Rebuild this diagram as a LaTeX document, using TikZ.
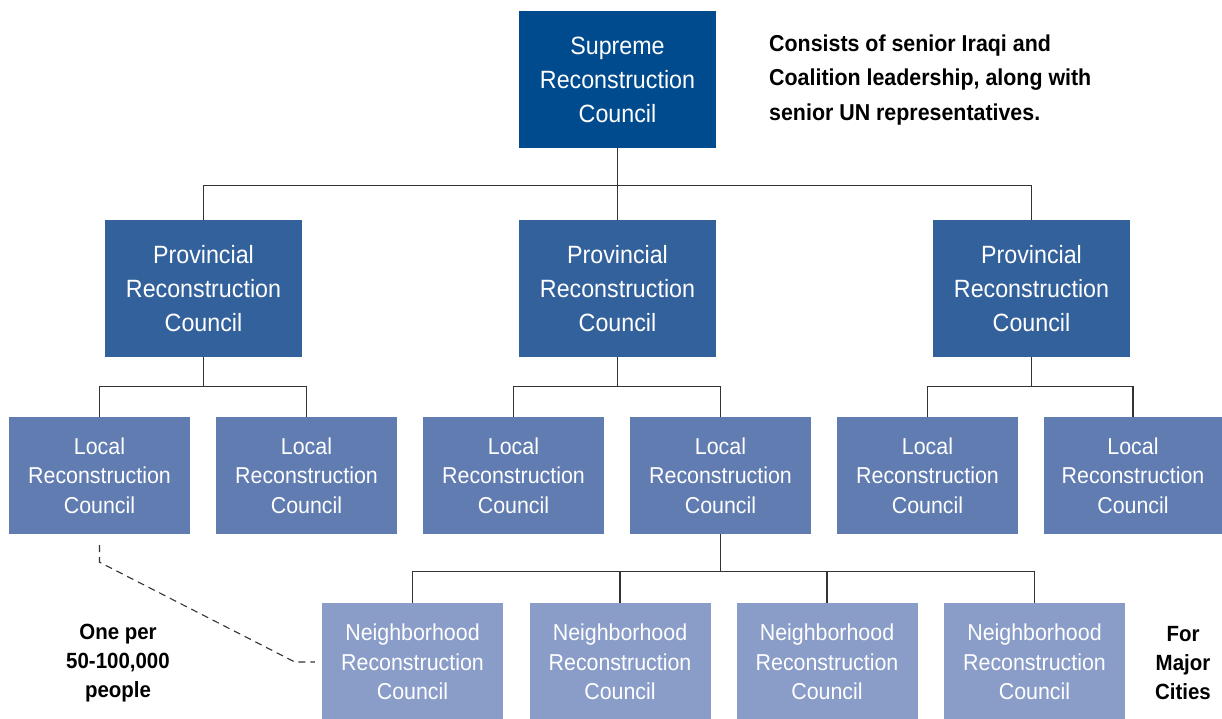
\documentclass[tikz,border=0pt]{standalone}
\usepackage{fontspec}
\setmainfont{Liberation Sans}[FakeStretch=0.93]
\definecolor{supremeblue}{HTML}{004B8D}
\definecolor{provblue}{HTML}{33619C}
\definecolor{localblue}{HTML}{607CB1}
\definecolor{hoodblue}{HTML}{8A9DC8}
\definecolor{wire}{HTML}{333333}
\tikzset{
  council/.style={inner sep=0pt, align=center, text=white},
  upper/.style={council, minimum width=197pt, minimum height=137pt,
    font=\fontsize{25}{34}\selectfont},
  lower/.style={council, minimum width=181pt, minimum height=117pt,
    font=\fontsize{23}{29.5}\selectfont},
  link/.style={draw=wire, line width=1.3pt, line join=miter},
  remark/.style={inner sep=0pt, text=black},
}
\begin{document}
\begin{tikzpicture}[x=1pt,y=-1pt]
\useasboundingbox (0,0) rectangle (1222,719);

% top level
\node[upper, fill=supremeblue] (sup) at (617.5,79.5) {Supreme\\Reconstruction\\Council};
\node[remark, anchor=west, align=left, font=\fontsize{23}{34.5}\selectfont\bfseries]
  (note) at (769,80) {Consists of senior Iraqi and\\Coalition leadership, along with\\senior UN representatives.};

% provincial level
\node[upper, fill=provblue] (p1) at (203.5,288.5) {Provincial\\Reconstruction\\Council};
\node[upper, fill=provblue] (p2) at (617.5,288.5) {Provincial\\Reconstruction\\Council};
\node[upper, fill=provblue] (p3) at (1031.5,288.5) {Provincial\\Reconstruction\\Council};

% local level
\node[lower, fill=localblue] (l1) at (99.5,475.5) {Local\\Reconstruction\\Council};
\node[lower, fill=localblue] (l2) at (306.5,475.5) {Local\\Reconstruction\\Council};
\node[lower, fill=localblue] (l3) at (513.5,475.5) {Local\\Reconstruction\\Council};
\node[lower, fill=localblue] (l4) at (720.5,475.5) {Local\\Reconstruction\\Council};
\node[lower, fill=localblue] (l5) at (927.5,475.5) {Local\\Reconstruction\\Council};
\node[lower, fill=localblue, minimum width=178pt] (l6) at (1133,475.5) {Local\\Reconstruction\\Council};

% neighborhood level
\node[lower, fill=hoodblue, minimum height=118pt] (n1) at (412.5,662) {Neighborhood\\Reconstruction\\Council};
\node[lower, fill=hoodblue, minimum height=118pt] (n2) at (620,662) {Neighborhood\\Reconstruction\\Council};
\node[lower, fill=hoodblue, minimum height=118pt] (n3) at (827,662) {Neighborhood\\Reconstruction\\Council};
\node[lower, fill=hoodblue, minimum height=118pt] (n4) at (1034.5,662) {Neighborhood\\Reconstruction\\Council};

\node[remark, align=center, font=\fontsize{22}{29}\selectfont\bfseries] (perpop) at (118,663) {One per\\50-100,000\\people};
\node[remark, align=center, font=\fontsize{22}{29}\selectfont\bfseries] (cities) at (1183,663) {For\\Major\\Cities};

% tree connectors
\draw[link] (sup.south) -- (p2.north);
\path (sup.south) ++(0,37.5) coordinate (b0);
\draw[link] (p1.north) |- (b0) -| (p3.north);

\path (p1.south) ++(0,29.5) coordinate (b1);
\draw[link] (p1.south) -- (b1);
\draw[link] (l1.north) |- (b1) -| (l2.north);

\path (p2.south) ++(0,29.5) coordinate (b2);
\draw[link] (p2.south) -- (b2);
\draw[link] (l3.north) |- (b2) -| (l4.north);

\path (p3.south) ++(0,29.5) coordinate (b3);
\draw[link] (p3.south) -- (b3);
\draw[link] (l5.north) |- (b3) -| (l6.north);

\path (l4.south) ++(0,37) coordinate (b4);
\draw[link] (l4.south) -- (b4);
\draw[link] (n1.north) |- (b4) -| (n4.north);
\draw[link] (n2.north) -- (n2.north |- b4);
\draw[link] (n3.north) -- (n3.north |- b4);

% population note link
\coordinate (d0) at ([yshift=-11pt]l1.south);
\coordinate (d3) at ([xshift=-7pt]n1.west);
\draw[draw=wire, line width=1.1pt, dash pattern=on 7pt off 5pt]
  (d0) -- ++(0,17) -- ([xshift=-20pt]d3) -- (d3);
\end{tikzpicture}
\end{document}
